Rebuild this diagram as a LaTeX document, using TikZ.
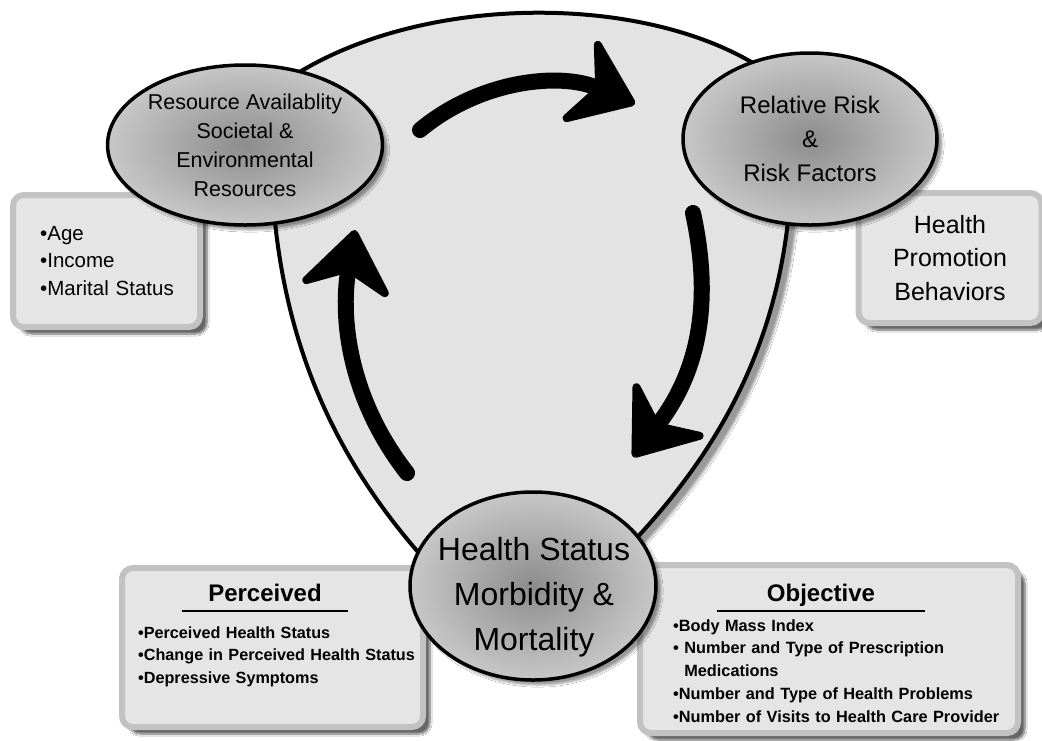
\documentclass[tikz,border=0pt]{standalone}
\usepackage{fontspec}
\setmainfont{Liberation Sans}
\usetikzlibrary{shapes.geometric,arrows.meta,shadows.blur,positioning}
\tikzstyle{cyclenode} = [ellipse, draw=black, line width=3.5pt, inner sep=0pt, align=center, inner color=black!45, outer color=black!22, blur shadow={shadow xshift=5pt, shadow yshift=-5pt, shadow blur steps=6}]
\tikzstyle{infobox} = [rectangle, rounded corners=11pt, draw=black!24, line width=6pt, fill=black!10, blur shadow={shadow xshift=7pt, shadow yshift=-7pt, shadow blur steps=8, shadow opacity=60}]
\tikzstyle{cyclearrow} = [draw=black, line width=16pt, line cap=round, -{Stealth[length=70pt, width=104pt, inset=24pt, line width=8pt, round, color=black, fill=black]}]
\tikzstyle{boxhead} = [font=\fontsize{24}{28}\selectfont\bfseries, inner sep=0pt, anchor=base]
\tikzstyle{boxlist} = [font=\fontsize{16.3}{22.8}\selectfont\bfseries, inner sep=0pt, anchor=base west, align=left]
\begin{document}
\begin{tikzpicture}[x=1pt, y=-1pt]
\useasboundingbox (0,0) rectangle (1042,740);
\fill[white] (0,0) rectangle (1042,740);
% boxes at the sides
\node[infobox, minimum width=187pt, minimum height=132pt] (agebox) at (106.5,261) {};
\node[font=\fontsize{20.5}{27.5}\selectfont, inner sep=0pt, anchor=base west, align=left, text width=150pt] (agetext) at (40,240) {•Age\\•Income\\•Marital Status};
\node[infobox, minimum width=183pt, minimum height=130pt, align=center, font=\fontsize{25}{33.5}\selectfont] (promobox) at (950,258) {Health\\Promotion\\Behaviors};
\node[infobox, minimum width=301pt, minimum height=159pt] (perbox) at (272.5,647.5) {};
\node[boxhead, minimum width=166pt] (pertitle) at (265,601) {Perceived};
\draw[line width=2pt] ([yshift=-10pt]pertitle.base west) -- ([yshift=-10pt]pertitle.base east);
\node[boxlist, text width=290pt, font=\fontsize{16.2}{22.5}\selectfont\bfseries] (peritems) at (138,638) {•Perceived Health Status\\•Change in Perceived Health Status\\•Depressive Symptoms};
\node[infobox, minimum width=378pt, minimum height=168pt] (objbox) at (829,649) {};
\node[boxhead, minimum width=207pt] (objtitle) at (821,601) {Objective};
\draw[line width=2pt] ([yshift=-10pt]objtitle.base west) -- ([yshift=-10pt]objtitle.base east);
\node[boxlist, text width=345pt] (objitems) at (673,631) {•Body Mass Index\\•\ Number and Type of Prescription\\\phantom{•\ }Medications\\•Number and Type of Health Problems\\•Number of Visits to Health Care Provider};
% shield
\filldraw[line width=4pt, fill=black!11, blur shadow={shadow xshift=8pt, shadow yshift=-6pt}] (250,110) .. controls (380,-18) and (690,-18) .. (800,100) -- (790,200) .. controls (780,330) and (730,440) .. (630,545) -- (425,560) .. controls (345,470) and (285,360) .. (273,200) -- cycle;
% cycle arrows
\coordinate (topfrom) at (420,130);
\coordinate (topto) at (635,104);
\coordinate (rightfrom) at (693,213);
\coordinate (rightto) at (633,457);
\coordinate (leftfrom) at (407,473);
\coordinate (leftto) at (355,230);
\draw[cyclearrow] (topfrom) .. controls (480,80) and (560,72) .. (topto);
\draw[cyclearrow] (rightfrom) .. controls (712,300) and (700,370) .. (rightto);
\draw[cyclearrow] (leftfrom) .. controls (350,400) and (340,320) .. (leftto);
% ellipses
\node[cyclenode, minimum width=240pt, minimum height=160pt, font=\fontsize{21.5}{29}\selectfont] (resource) at (245,145) {Resource Availablity\\Societal \&\\Environmental\\Resources};
\node[cyclenode, minimum width=254pt, minimum height=172pt, font=\fontsize{24}{34}\selectfont] (risk) at (810,139) {Relative Risk\\\&\\Risk Factors};
\node[cyclenode, minimum width=246pt, minimum height=188pt] (health) at (533,586) {};
\node[font=\fontsize{32}{45}\selectfont, align=center, inner sep=0pt] (healthtext) at (534,597) {Health Status\\Morbidity \&\\Mortality};
\end{tikzpicture}
\end{document}
